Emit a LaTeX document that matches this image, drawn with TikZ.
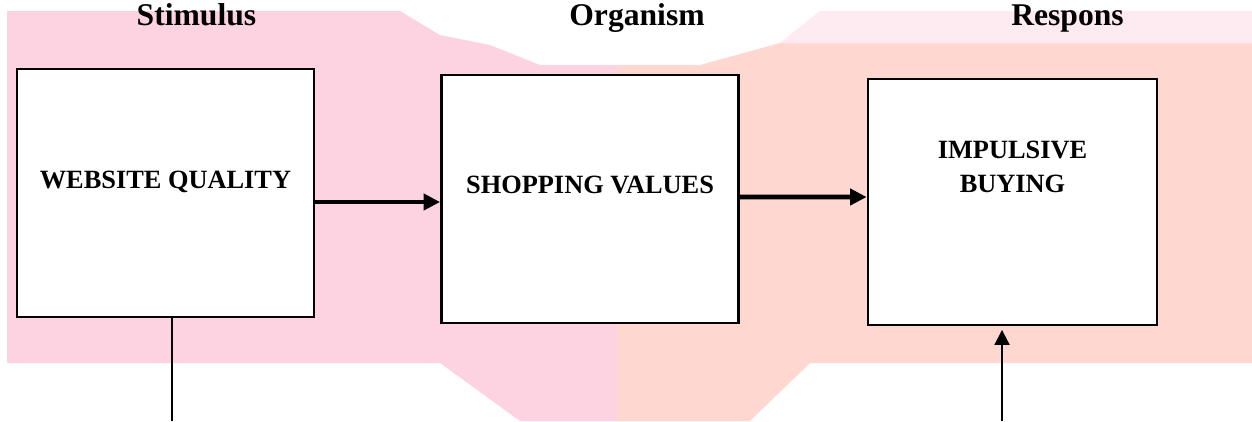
\documentclass[tikz,border=0pt]{standalone}
\usepackage{fontspec}
\setmainfont{Liberation Serif}
\usetikzlibrary{arrows.meta}
\definecolor{pinkbg}{RGB}{254,211,225}
\definecolor{peachbg}{RGB}{254,216,208}

\begin{document}
\begin{tikzpicture}
    \tikzstyle{box}=[rectangle,draw,fill=white,line width=1.6pt,minimum width=5.94cm,minimum height=4.96cm,inner sep=0pt]
    \tikzstyle{boxtext}=[font=\fontsize{15}{18.8}\selectfont\bfseries,align=center,inner sep=0pt,anchor=base]
    \tikzstyle{head}=[font=\fontsize{18}{22}\selectfont\bfseries,inner sep=0pt,anchor=base]

    \tikzstyle{flow}=[line width=2.6pt,-{Triangle[length=0.33cm,width=0.32cm]}]  % thick arrow
    \tikzstyle{feed}=[line width=1.1pt,-{Triangle[length=0.3cm,width=0.3cm]}]    % thin arrow

    \useasboundingbox (0,0) rectangle (25.04,-8.42);

    % background
    \fill[pinkbg] (0.14,-0.22) -- (8,-0.22) -- (8.8,-0.7) -- (9.8,-0.9) -- (10.8,-1.3) -- (12.34,-1.3)
        -- (12.34,-8.42) -- (10.4,-8.42) -- (8.8,-7.26) -- (0.14,-7.26) -- cycle;
    \fill[peachbg] (12.34,-1.3) -- (14,-1.3) -- (15.6,-0.86) -- (25.04,-0.86) -- (25.04,-7.26)
        -- (16.2,-7.26) -- (15,-8.42) -- (12.34,-8.42) -- cycle;
    \fill[pinkbg!45] (16.4,-0.22) -- (25.04,-0.22) -- (25.04,-0.86) -- (15.6,-0.86) -- cycle;

    \node[head] (stim) at (3.93,-0.5) {Stimulus};
    \node[head] (org)  at (12.74,-0.5) {Organism};
    \node[head] (resp) at (21.35,-0.5) {Respons};

    \node[box] (wq) at (3.31,-3.86) {};
    \node[box] (sv) at (11.8,-3.98) {};
    \node[box,minimum width=5.78cm,minimum height=4.92cm] (ib) at (20.25,-4.04) {};

    \node[boxtext] (wqtext) at ([yshift=0.1cm]wq.center)  {WEBSITE QUALITY};
    \node[boxtext] (svtext) at ([yshift=0.12cm]sv.center) {SHOPPING VALUES};
    \node[boxtext] (ibtext) at ([yshift=0.2cm]ib.center)  {IMPULSIVE\\BUYING};

    \coordinate (wqout) at (3.44,-8.42);
    \coordinate (ibin)  at (20.04,-8.42);

    \draw[flow] ([yshift=-0.18cm]wq.east) -- ([yshift=-0.06cm]sv.west);
    \draw[flow] ([yshift=0.04cm]sv.east) -- ([yshift=0.1cm]ib.west);
    \draw[line width=0.75pt] (wq.south -| wqout) -- (wqout);
    \draw[feed,shorten >=2pt] (ibin) -- (ibin |- ib.south);
\end{tikzpicture}
\end{document}
